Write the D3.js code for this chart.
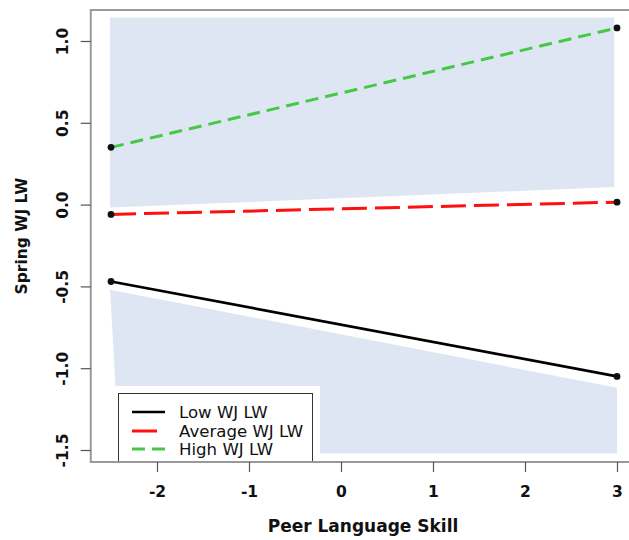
<!DOCTYPE html>
<html>
<head>
<meta charset="utf-8">
<script src="https://cdn.jsdelivr.net/npm/d3@7"></script>
<style>
  html, body { margin: 0; padding: 0; background: #fff; }
  svg { display: block; }
</style>
</head>
<body>
<svg id="chart" width="629" height="540"></svg>
<script>
// Simple slopes of Spring WJ LW on Peer Language Skill at three levels of WJ LW
const seriesNames = ["Low WJ LW", "Average WJ LW", "High WJ LW"];
const peerSkill = [-2.5, 3];
const lowValues = [-0.47, -1.05];
const averageValues = [-0.06, 0.015];
const highValues = [0.35, 1.08];

// Shaded regions (x, y in data units)
const upperRegion = [[-2.51, 1.143], [2.97, 1.143], [2.97, 0.107], [-2.51, -0.018]];
const lowerRegion = [[-2.51, -0.52], [3.0, -1.12], [3.0, -1.522], [-2.41, -1.522]];

const xTicks = [-2, -1, 0, 1, 2, 3];
const yTicks = [-1.5, -1.0, -0.5, 0.0, 0.5, 1.0];

const svg = d3.select("#chart");

const x = d3.scaleLinear().domain([-2, 3]).range([157, 617]);
const y = d3.scaleLinear().domain([-1.5, 1.0]).range([450, 41]);

// plot box edges (data range padded by 4%)
const box = { left: x(-2.72), right: x(3.22), top: 10, bottom: 462 };

const fill = "#dee6f3";
const polyLine = d3.line().x(d => x(d[0])).y(d => y(d[1]));

svg.append("path").attr("d", polyLine(upperRegion) + "Z").attr("fill", fill);
svg.append("path").attr("d", polyLine(lowerRegion) + "Z").attr("fill", fill);

const series = [
  { name: seriesNames[0], values: lowValues, color: "#000000", dash: null, width: 2.6 },
  { name: seriesNames[1], values: averageValues, color: "#ff1010", dash: "25,8", width: 3 },
  { name: seriesNames[2], values: highValues, color: "#45c945", dash: "13,7", width: 3 }
];

const line = d3.line().x((d, i) => x(peerSkill[i])).y(d => y(d));

series.forEach(s => {
  svg.append("path")
    .attr("d", line(s.values))
    .attr("fill", "none")
    .attr("stroke", s.color)
    .attr("stroke-width", s.width)
    .attr("stroke-dasharray", s.dash);
  svg.selectAll(null)
    .data(s.values)
    .enter().append("circle")
    .attr("cx", (d, i) => x(peerSkill[i]))
    .attr("cy", d => y(d))
    .attr("r", 3.4)
    .attr("fill", "#111");
});

// Legend (white background, then border)
svg.append("rect")
  .attr("x", box.left).attr("y", 386)
  .attr("width", 320 - box.left).attr("height", box.bottom - 386)
  .attr("fill", "#fff");
svg.append("rect")
  .attr("x", 118.5).attr("y", 393.5)
  .attr("width", 194).attr("height", box.bottom - 393.5)
  .attr("fill", "none").attr("stroke", "#333").attr("stroke-width", 1);

const legendRows = [412, 431, 449];
series.forEach((s, i) => {
  svg.append("line")
    .attr("x1", 132).attr("x2", 165)
    .attr("y1", legendRows[i]).attr("y2", legendRows[i])
    .attr("stroke", s.color)
    .attr("stroke-width", s.width)
    .attr("stroke-dasharray", s.dash);
  svg.append("text")
    .attr("x", 179).attr("y", legendRows[i] + 5.5)
    .attr("font-family", "DejaVu Sans")
    .attr("font-size", 16.6)
    .attr("fill", "#111")
    .text(s.name);
});

// Plot box
svg.append("rect")
  .attr("x", box.left).attr("y", box.top)
  .attr("width", box.right - box.left).attr("height", box.bottom - box.top)
  .attr("fill", "none").attr("stroke", "#999").attr("stroke-width", 2);

// Tick labels use a plain hyphen for negatives
const fmtX = d => String(d);
const fmtY = d => d3.format(".1f")(d).replace("\u2212", "-");

// Axes
const xAxis = d3.axisBottom(x).tickValues(xTicks).tickSize(10).tickPadding(14)
  .tickFormat(fmtX);
const gx = svg.append("g").attr("transform", `translate(0,${box.bottom})`).call(xAxis);
gx.select(".domain").remove();
gx.selectAll("line").attr("stroke", "#555").attr("stroke-width", 1.2);
gx.selectAll("text")
  .attr("font-family", "DejaVu Sans").attr("font-weight", "bold")
  .attr("font-size", 15.5).attr("fill", "#111");

const yAxis = d3.axisLeft(y).tickValues(yTicks).tickSize(10).tickFormat(fmtY);
const gy = svg.append("g").attr("transform", `translate(${box.left},0)`).call(yAxis);
gy.select(".domain").remove();
gy.selectAll("line").attr("stroke", "#555").attr("stroke-width", 1.2);
gy.selectAll("text")
  .attr("font-family", "DejaVu Sans").attr("font-weight", "bold")
  .attr("font-size", 15.5).attr("fill", "#111")
  .attr("text-anchor", "middle")
  .attr("x", null).attr("dy", null)
  .attr("transform", "translate(-23,0) rotate(-90)");

// Axis titles
svg.append("text")
  .attr("x", 363).attr("y", 532)
  .attr("text-anchor", "middle")
  .attr("font-family", "DejaVu Sans").attr("font-weight", "bold")
  .attr("font-size", 17).attr("fill", "#111")
  .text("Peer Language Skill");

svg.append("text")
  .attr("transform", "translate(27,236) rotate(-90)")
  .attr("text-anchor", "middle")
  .attr("font-family", "DejaVu Sans").attr("font-weight", "bold")
  .attr("font-size", 15.5).attr("fill", "#111")
  .text("Spring WJ LW");
</script>
</body>
</html>
